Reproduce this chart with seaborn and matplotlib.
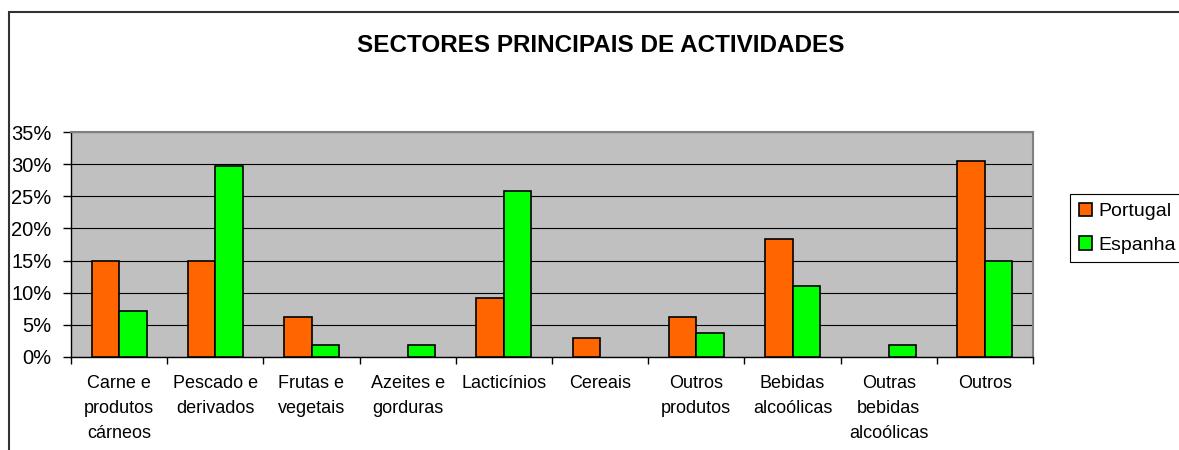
import pandas as pd
import seaborn as sns
import matplotlib.pyplot as plt
from matplotlib.patches import Patch, Rectangle
from matplotlib.ticker import FixedLocator, PercentFormatter


# data (percentages)
categories = ["Carne e\nprodutos\ncárneos", "Pescado e\nderivados", "Frutas e\nvegetais",
              "Azeites e\ngorduras", "Lacticínios", "Cereais", "Outros\nprodutos",
              "Bebidas\nalcoólicas", "Outras\nbebidas\nalcoólicas", "Outros"]
portugal = [15.0, 15.0, 6.2, 0.0, 9.2, 3.0, 6.2, 18.4, 0.0, 30.5]
espanha = [7.2, 29.7, 1.9, 1.9, 25.9, 0.0, 3.8, 11.1, 1.9, 14.9]
series = ["Portugal", "Espanha"]
y_ticks = [0, 5, 10, 15, 20, 25, 30, 35]

df = pd.DataFrame({
    "Sector": categories * 2,
    "Valor": portugal + espanha,
    "Pais": [series[0]] * len(categories) + [series[1]] * len(categories),
})

sns.set_style("white")
plt.rcParams["font.family"] = ["Liberation Sans", "DejaVu Sans"]
plt.rcParams["text.color"] = "black"
plt.rcParams["xtick.color"] = "black"
plt.rcParams["ytick.color"] = "black"

fig = plt.figure(figsize=(11.79, 4.5), dpi=100)
ax = fig.add_axes([71 / 1179, 1 - 357 / 450, (1033 - 71) / 1179, (357 - 132) / 450])

colors = {"Portugal": "#FF6600", "Espanha": "#00FF00"}
sns.barplot(data=df, x="Sector", y="Valor", hue="Pais", palette=colors, width=0.57,
            edgecolor="black", linewidth=1.2, saturation=1, ax=ax, zorder=3, legend=False)

# empty bars should not leave an outline on the axis
for p in ax.patches:
    if p.get_height() == 0:
        p.set_visible(False)

ax.set_facecolor("#C0C0C0")
ax.set_ylim(0, 35)
ax.set_xlim(-0.5, len(categories) - 0.5)
ax.yaxis.set_major_locator(FixedLocator(y_ticks))
ax.yaxis.set_major_formatter(PercentFormatter(decimals=0))
ax.grid(axis="y", color="black", linewidth=0.8, zorder=1)
ax.set_axisbelow(True)

# category boundaries as ticks, names centred as minor labels
ax.set_xticks([i - 0.5 for i in range(len(categories) + 1)])
ax.set_xticklabels([])
ax.set_xticks(range(len(categories)), minor=True)
ax.set_xticklabels(categories, minor=True, fontsize=13, linespacing=1.6)
ax.tick_params(axis="x", which="major", direction="out", length=5, width=1, color="black", bottom=True)
ax.tick_params(axis="x", which="minor", length=0, pad=13)
ax.tick_params(axis="y", direction="out", length=6, width=1, color="black", left=True, labelsize=14.5, pad=8)

ax.set_xlabel("")
ax.set_ylabel("")

for side in ["left", "bottom"]:
    ax.spines[side].set_color("black")
    ax.spines[side].set_linewidth(1)
for side in ["top", "right"]:
    ax.spines[side].set_color("#808080")
    ax.spines[side].set_linewidth(1.5)

handles = [Patch(facecolor=colors[s], edgecolor="black", linewidth=1.2) for s in series]
ax.legend(handles, series, loc="upper left", bbox_to_anchor=(1070 / 1179, 1 - 194 / 450),
          bbox_transform=fig.transFigure, fontsize=14, frameon=True, fancybox=False,
          edgecolor="black", framealpha=1, handlelength=0.7, handleheight=0.7,
          handletextpad=0.3, labelspacing=0.8, borderpad=0.45, borderaxespad=0)
ax.get_legend().get_frame().set_linewidth(0.8)

fig.text(601 / 1179, 1 - 46 / 450, "SECTORES PRINCIPAIS DE ACTIVIDADES",
         ha="center", va="center", fontsize=17.5, fontweight="bold", color="black")

# chart area frame (runs off the right and bottom edges)
fig.patches.append(Rectangle((9 / 1179, -0.1), 1.2, 1 - 12 / 450 + 0.1, transform=fig.transFigure,
                             fill=False, edgecolor="#333333", linewidth=1.5, zorder=0))

fig.savefig("out.png", dpi=100)
